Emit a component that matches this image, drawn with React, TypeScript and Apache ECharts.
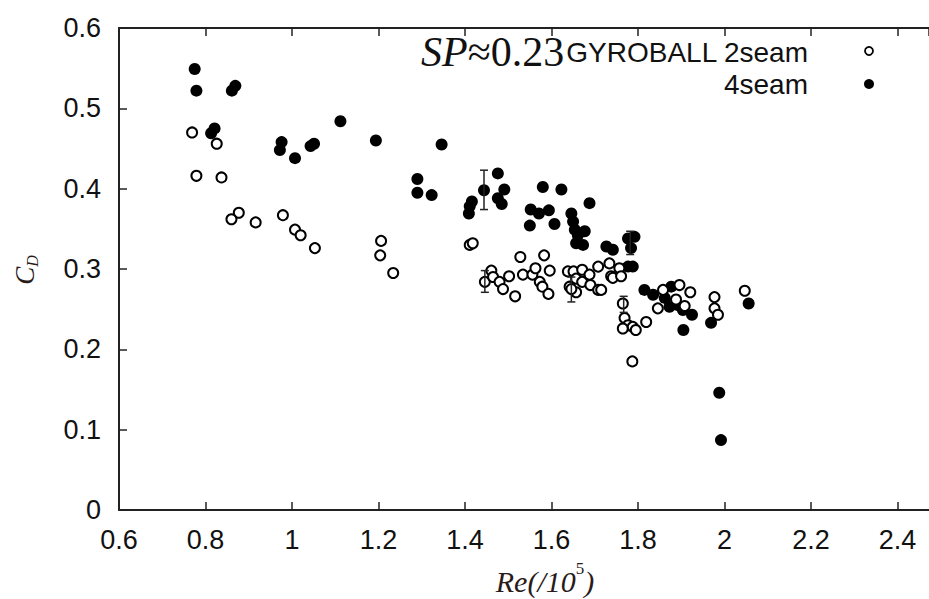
import React, { useEffect, useRef } from "react";
import * as echarts from "echarts";

// 2seam (open circles): [Re/1e5, CD]
const twoSeam: number[][] = [
  [0.769, 0.470], [0.826, 0.456], [0.779, 0.416], [0.837, 0.414], [0.877, 0.370],
  [0.860, 0.362], [0.916, 0.358], [0.979, 0.367], [1.007, 0.349], [1.020, 0.342],
  [1.053, 0.326], [1.206, 0.335], [1.204, 0.317], [1.234, 0.295], [1.411, 0.330],
  [1.418, 0.332], [1.446, 0.284], [1.461, 0.298], [1.465, 0.290], [1.480, 0.284],
  [1.488, 0.275], [1.502, 0.291], [1.516, 0.266], [1.528, 0.315], [1.534, 0.293],
  [1.556, 0.293], [1.563, 0.301], [1.573, 0.284], [1.579, 0.278], [1.583, 0.317],
  [1.593, 0.269], [1.596, 0.298], [1.638, 0.297], [1.651, 0.297], [1.671, 0.299],
  [1.657, 0.288], [1.671, 0.284], [1.688, 0.293], [1.690, 0.280], [1.642, 0.278],
  [1.657, 0.271], [1.708, 0.303], [1.708, 0.274], [1.646, 0.275], [1.715, 0.274],
  [1.734, 0.307], [1.738, 0.291], [1.742, 0.289], [1.757, 0.301], [1.761, 0.291],
  [1.765, 0.257], [1.769, 0.239], [1.777, 0.230], [1.765, 0.226], [1.788, 0.228],
  [1.795, 0.224], [1.819, 0.234], [1.787, 0.185], [1.858, 0.274], [1.846, 0.251],
  [1.888, 0.262], [1.896, 0.280], [1.908, 0.254], [1.921, 0.271], [1.977, 0.265],
  [1.977, 0.251], [1.985, 0.243], [2.047, 0.273],
];

// 4seam (filled circles): [Re/1e5, CD]
const fourSeam: number[][] = [
  [0.775, 0.549], [0.779, 0.522], [0.861, 0.522], [0.869, 0.528], [0.821, 0.475],
  [0.813, 0.469], [0.976, 0.458], [0.972, 0.448], [1.007, 0.438], [1.043, 0.453],
  [1.051, 0.456], [1.112, 0.484], [1.194, 0.460], [1.290, 0.412], [1.290, 0.395],
  [1.323, 0.392], [1.346, 0.455], [1.416, 0.384], [1.411, 0.378], [1.409, 0.369],
  [1.444, 0.398], [1.476, 0.419], [1.491, 0.399], [1.476, 0.388], [1.485, 0.381],
  [1.550, 0.354], [1.552, 0.374], [1.571, 0.369], [1.580, 0.402], [1.594, 0.373],
  [1.607, 0.356], [1.623, 0.399], [1.646, 0.369], [1.650, 0.359], [1.654, 0.349],
  [1.661, 0.342], [1.677, 0.347], [1.673, 0.330], [1.657, 0.332], [1.688, 0.382],
  [1.727, 0.328], [1.742, 0.324], [1.777, 0.338], [1.792, 0.340], [1.784, 0.326],
  [1.788, 0.303], [1.777, 0.303], [1.815, 0.274], [1.835, 0.268], [1.862, 0.264],
  [1.877, 0.278], [1.873, 0.253], [1.892, 0.255], [1.904, 0.249], [1.925, 0.243],
  [1.905, 0.224], [1.969, 0.233], [2.056, 0.257], [1.988, 0.146], [1.992, 0.087],
];

// error bars: [Re/1e5, low, high]
const errorBars: number[][] = [
  [1.444, 0.374, 0.423],
  [1.446, 0.271, 0.298],
  [1.646, 0.259, 0.290],
  [1.782, 0.318, 0.347],
  [1.767, 0.246, 0.266],
];

const xTicks = [0.6, 0.8, 1.0, 1.2, 1.4, 1.6, 1.8, 2.0, 2.2, 2.4];
const seriesNames = ["GYROBALL 2seam", "4seam"];

export default function App() {
  const ref = useRef<HTMLDivElement>(null);
  useEffect(() => {
    if (!ref.current) return;
    const chart = echarts.init(ref.current, null, { renderer: "svg" });
    const labelFont = {
      fontFamily: "Liberation Sans, Arial, sans-serif",
      fontSize: 27,
      color: "#111",
    };
    const fmtX = (v: number) => {
      const hit = xTicks.find((t) => Math.abs(t - v) < 1e-6);
      return hit === undefined ? "" : String(Math.round(hit * 10) / 10);
    };
    chart.setOption({
      animation: false,
      backgroundColor: "#fff",
      grid: { left: 119, top: 28, width: 812, height: 482 },
      xAxis: [
        {
          type: "value",
          min: 0.6,
          max: 2.473,
          interval: 0.2,
          axisLine: { show: true, onZero: false, lineStyle: { color: "#222", width: 2 } },
          axisTick: { inside: true, length: 8, lineStyle: { color: "#222", width: 1.5 } },
          axisLabel: { ...labelFont, margin: 16, formatter: fmtX, showMaxLabel: false },
          splitLine: { show: false },
        },
        {
          type: "value",
          position: "top",
          min: 0.6,
          max: 2.473,
          interval: 0.2,
          axisLine: { show: true, onZero: false, lineStyle: { color: "#222", width: 2 } },
          axisTick: { inside: true, length: 8, lineStyle: { color: "#222", width: 1.5 } },
          axisLabel: { show: false },
          splitLine: { show: false },
        },
      ],
      yAxis: {
        type: "value",
        min: 0,
        max: 0.6,
        interval: 0.1,
        axisLine: { show: true, onZero: false, lineStyle: { color: "#222", width: 2 } },
        axisTick: { inside: true, length: 8, lineStyle: { color: "#222", width: 1.5 } },
        axisLabel: { ...labelFont, margin: 18 },
        splitLine: { show: false },
      },
      series: [
        {
          name: seriesNames[1],
          type: "scatter",
          data: fourSeam,
          symbol: "circle",
          symbolSize: 12,
          itemStyle: { color: "#000", opacity: 1 },
          z: 2,
        },
        {
          name: seriesNames[0],
          type: "scatter",
          data: twoSeam,
          symbol: "circle",
          symbolSize: 10,
          itemStyle: { color: "#fff", borderColor: "#000", borderWidth: 2, opacity: 1 },
          z: 3,
        },
        {
          type: "custom",
          data: errorBars,
          z: 4,
          renderItem: (params: any, api: any) => {
            const x = api.value(0);
            const p1 = api.coord([x, api.value(1)]);
            const p2 = api.coord([x, api.value(2)]);
            const cap = 4;
            const st = { stroke: "#222", lineWidth: 1.5 };
            return {
              type: "group",
              children: [
                { type: "line", shape: { x1: p1[0], y1: p1[1], x2: p2[0], y2: p2[1] }, style: st },
                { type: "line", shape: { x1: p1[0] - cap, y1: p1[1], x2: p1[0] + cap, y2: p1[1] }, style: st },
                { type: "line", shape: { x1: p2[0] - cap, y1: p2[1], x2: p2[0] + cap, y2: p2[1] }, style: st },
              ],
            };
          },
        },
      ],
      graphic: [
        {
          type: "text",
          x: 25,
          y: 270,
          rotation: Math.PI / 2,
          style: {
            text: "{c|C}{d|D}",
            align: "center",
            verticalAlign: "middle",
            rich: {
              c: { fontFamily: "Liberation Serif, serif", fontStyle: "italic", fontSize: 27, fill: "#2a1a1a", lineHeight: 30, verticalAlign: "middle" },
              d: { fontFamily: "Liberation Serif, serif", fontStyle: "italic", fontSize: 16, fill: "#2a1a1a", lineHeight: 30, verticalAlign: "bottom" },
            },
          },
        },
        {
          type: "text",
          x: 545,
          y: 578,
          style: {
            text: "{a|Re(/10}{s|5}{a|)}",
            align: "center",
            verticalAlign: "middle",
            rich: {
              a: { fontFamily: "Liberation Serif, serif", fontStyle: "italic", fontSize: 30, fill: "#2a1a1a", lineHeight: 36, verticalAlign: "bottom" },
              s: { fontFamily: "Liberation Serif, serif", fontSize: 17, fill: "#2a1a1a", lineHeight: 36, verticalAlign: "top" },
            },
          },
        },
        {
          type: "text",
          x: 421,
          y: 52,
          style: {
            text: "{i|SP}{r|≈0.23}",
            align: "left",
            verticalAlign: "middle",
            rich: {
              i: { fontFamily: "Liberation Serif, serif", fontStyle: "italic", fontSize: 42, fill: "#111" },
              r: { fontFamily: "Liberation Serif, serif", fontSize: 42, fill: "#111" },
            },
          },
        },
        {
          type: "text",
          x: 808,
          y: 52,
          style: {
            text: seriesNames[0],
            align: "right",
            verticalAlign: "middle",
            fontFamily: "Liberation Sans, Arial, sans-serif",
            fontSize: 28,
            fill: "#111",
          },
        },
        {
          type: "text",
          x: 808,
          y: 84,
          style: {
            text: seriesNames[1],
            align: "right",
            verticalAlign: "middle",
            fontFamily: "Liberation Sans, Arial, sans-serif",
            fontSize: 28,
            fill: "#111",
          },
        },
        {
          type: "circle",
          shape: { cx: 869, cy: 51, r: 4 },
          style: { fill: "#fff", stroke: "#000", lineWidth: 1.8 },
        },
        {
          type: "circle",
          shape: { cx: 869, cy: 84, r: 5 },
          style: { fill: "#000" },
        },
      ],
    });
    return () => chart.dispose();
  }, []);
  return (
    <div
      ref={ref}
      style={{ position: "fixed", left: 0, top: 0, width: 929, height: 599, background: "#fff" }}
    />
  );
}
